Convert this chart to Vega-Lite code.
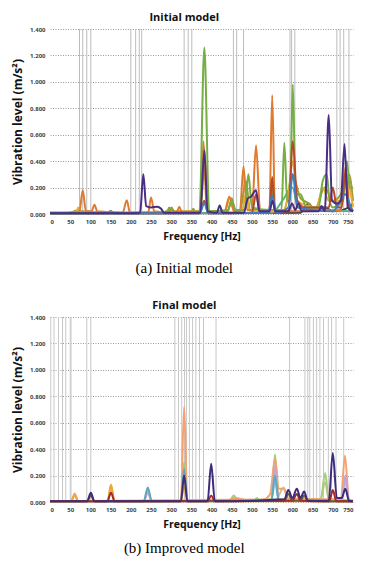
{
  "$schema": "https://vega.github.io/schema/vega-lite/v6.json",
  "padding": {"left": 11, "top": 12, "right": 12, "bottom": 4},
  "background": "white",
  "config": {
    "view": {"stroke": null},
    "font": "Open Sans",
    "concat": {"spacing": 24},
    "legend": {"disable": true}
  },
  "datasets": {
    "vi": [{"f":73},{"f":81},{"f":91},{"f":101},{"f":200},{"f":212},{"f":221},{"f":227},{"f":332},{"f":342},{"f":351},{"f":454},{"f":462},{"f":479},{"f":594},{"f":598},{"f":606},{"f":710},{"f":718},{"f":727},{"f":740}],
    "vf": [{"f":2},{"f":10},{"f":21},{"f":31},{"f":39},{"f":50},{"f":52},{"f":91},{"f":101},{"f":309},{"f":318},{"f":326},{"f":333},{"f":338},{"f":345},{"f":353},{"f":361},{"f":370},{"f":380},{"f":411},{"f":593},{"f":631},{"f":638},{"f":643},{"f":652},{"f":660},{"f":668},{"f":677},{"f":689},{"f":697},{"f":708},{"f":727}],
    "initial": [
      {"s":"i8","f":0,"v":0.005},{"s":"i8","f":140,"v":0.005},{"s":"i8","f":150,"v":0.02},{"s":"i8","f":160,"v":0.005},{"s":"i8","f":620,"v":0.01},{"s":"i8","f":640,"v":0.08},{"s":"i8","f":655,"v":0.03},{"s":"i8","f":680,"v":0.05},{"s":"i8","f":700,"v":0.02},{"s":"i8","f":740,"v":0.05},{"s":"i8","f":750,"v":0.08},
      {"s":"i9","f":0,"v":0.005},{"s":"i9","f":550,"v":0.01},{"s":"i9","f":575,"v":0.1},{"s":"i9","f":600,"v":0.2},{"s":"i9","f":615,"v":0.05},{"s":"i9","f":750,"v":0.02},
      {"s":"i4","f":0,"v":0.01},{"s":"i4","f":40,"v":0.01},{"s":"i4","f":60,"v":0.02},{"s":"i4","f":70,"v":0.03},{"s":"i4","f":80,"v":0.02},{"s":"i4","f":150,"v":0.01},{"s":"i4","f":290,"v":0.01},{"s":"i4","f":295,"v":0.05},{"s":"i4","f":302,"v":0.02},{"s":"i4","f":350,"v":0.02},{"s":"i4","f":355,"v":0.04},{"s":"i4","f":360,"v":0.01},{"s":"i4","f":372,"v":0.02},{"s":"i4","f":382,"v":0.35},{"s":"i4","f":392,"v":0.02},{"s":"i4","f":440,"v":0.02},{"s":"i4","f":450,"v":0.12},{"s":"i4","f":458,"v":0.02},{"s":"i4","f":470,"v":0.02},{"s":"i4","f":485,"v":0.25},{"s":"i4","f":495,"v":0.03},{"s":"i4","f":580,"v":0.03},{"s":"i4","f":600,"v":0.3},{"s":"i4","f":620,"v":0.12},{"s":"i4","f":640,"v":0.08},{"s":"i4","f":655,"v":0.03},{"s":"i4","f":680,"v":0.2},{"s":"i4","f":700,"v":0.1},{"s":"i4","f":720,"v":0.15},{"s":"i4","f":740,"v":0.3},{"s":"i4","f":750,"v":0.1},
      {"s":"i6","f":0,"v":0.01},{"s":"i6","f":65,"v":0.01},{"s":"i6","f":70,"v":0.05},{"s":"i6","f":76,"v":0.01},{"s":"i6","f":370,"v":0.02},{"s":"i6","f":382,"v":0.5},{"s":"i6","f":392,"v":0.02},{"s":"i6","f":432,"v":0.01},{"s":"i6","f":445,"v":0.12},{"s":"i6","f":457,"v":0.01},{"s":"i6","f":475,"v":0.02},{"s":"i6","f":485,"v":0.15},{"s":"i6","f":495,"v":0.02},{"s":"i6","f":575,"v":0.02},{"s":"i6","f":590,"v":0.15},{"s":"i6","f":601,"v":0.4},{"s":"i6","f":612,"v":0.1},{"s":"i6","f":640,"v":0.06},{"s":"i6","f":660,"v":0.05},{"s":"i6","f":675,"v":0.2},{"s":"i6","f":690,"v":0.1},{"s":"i6","f":720,"v":0.1},{"s":"i6","f":735,"v":0.25},{"s":"i6","f":750,"v":0.05},
      {"s":"i1","f":0,"v":0.01},{"s":"i1","f":60,"v":0.01},{"s":"i1","f":73,"v":0.02},{"s":"i1","f":81,"v":0.18},{"s":"i1","f":89,"v":0.02},{"s":"i1","f":103,"v":0.02},{"s":"i1","f":110,"v":0.07},{"s":"i1","f":117,"v":0.02},{"s":"i1","f":180,"v":0.01},{"s":"i1","f":190,"v":0.105},{"s":"i1","f":198,"v":0.01},{"s":"i1","f":243,"v":0.01},{"s":"i1","f":250,"v":0.125},{"s":"i1","f":258,"v":0.02},{"s":"i1","f":294,"v":0.01},{"s":"i1","f":301,"v":0.05},{"s":"i1","f":308,"v":0.01},{"s":"i1","f":313,"v":0.01},{"s":"i1","f":320,"v":0.055},{"s":"i1","f":327,"v":0.01},{"s":"i1","f":372,"v":0.02},{"s":"i1","f":380,"v":0.55},{"s":"i1","f":388,"v":0.02},{"s":"i1","f":432,"v":0.02},{"s":"i1","f":444,"v":0.13},{"s":"i1","f":456,"v":0.02},{"s":"i1","f":470,"v":0.02},{"s":"i1","f":479,"v":0.36},{"s":"i1","f":488,"v":0.03},{"s":"i1","f":500,"v":0.03},{"s":"i1","f":510,"v":0.52},{"s":"i1","f":520,"v":0.03},{"s":"i1","f":543,"v":0.02},{"s":"i1","f":550,"v":0.9},{"s":"i1","f":557,"v":0.02},{"s":"i1","f":600,"v":0.02},{"s":"i1","f":720,"v":0.03},{"s":"i1","f":731,"v":0.35},{"s":"i1","f":742,"v":0.03},{"s":"i1","f":750,"v":0.02},
      {"s":"i2","f":0,"v":0.005},{"s":"i2","f":280,"v":0.01},{"s":"i2","f":300,"v":0.04},{"s":"i2","f":310,"v":0.01},{"s":"i2","f":370,"v":0.02},{"s":"i2","f":382,"v":1.26},{"s":"i2","f":394,"v":0.02},{"s":"i2","f":440,"v":0.03},{"s":"i2","f":450,"v":0.1},{"s":"i2","f":460,"v":0.03},{"s":"i2","f":482,"v":0.03},{"s":"i2","f":491,"v":0.3},{"s":"i2","f":500,"v":0.05},{"s":"i2","f":545,"v":0.03},{"s":"i2","f":550,"v":0.2},{"s":"i2","f":556,"v":0.03},{"s":"i2","f":573,"v":0.03},{"s":"i2","f":580,"v":0.54},{"s":"i2","f":587,"v":0.1},{"s":"i2","f":594,"v":0.1},{"s":"i2","f":601,"v":0.98},{"s":"i2","f":608,"v":0.15},{"s":"i2","f":620,"v":0.15},{"s":"i2","f":635,"v":0.05},{"s":"i2","f":665,"v":0.05},{"s":"i2","f":675,"v":0.25},{"s":"i2","f":685,"v":0.3},{"s":"i2","f":692,"v":0.1},{"s":"i2","f":700,"v":0.05},{"s":"i2","f":725,"v":0.1},{"s":"i2","f":735,"v":0.4},{"s":"i2","f":742,"v":0.2},{"s":"i2","f":750,"v":0.2},
      {"s":"i5","f":0,"v":0.005},{"s":"i5","f":370,"v":0.005},{"s":"i5","f":382,"v":0.1},{"s":"i5","f":392,"v":0.005},{"s":"i5","f":500,"v":0.01},{"s":"i5","f":510,"v":0.15},{"s":"i5","f":520,"v":0.01},{"s":"i5","f":543,"v":0.01},{"s":"i5","f":550,"v":0.28},{"s":"i5","f":557,"v":0.01},{"s":"i5","f":590,"v":0.02},{"s":"i5","f":601,"v":0.55},{"s":"i5","f":612,"v":0.1},{"s":"i5","f":630,"v":0.05},{"s":"i5","f":690,"v":0.05},{"s":"i5","f":700,"v":0.2},{"s":"i5","f":710,"v":0.05},{"s":"i5","f":722,"v":0.05},{"s":"i5","f":731,"v":0.32},{"s":"i5","f":740,"v":0.05},{"s":"i5","f":750,"v":0.03},
      {"s":"i7","f":0,"v":0.005},{"s":"i7","f":370,"v":0.005},{"s":"i7","f":382,"v":0.08},{"s":"i7","f":392,"v":0.005},{"s":"i7","f":540,"v":0.01},{"s":"i7","f":550,"v":0.14},{"s":"i7","f":560,"v":0.01},{"s":"i7","f":590,"v":0.05},{"s":"i7","f":601,"v":0.3},{"s":"i7","f":612,"v":0.05},{"s":"i7","f":700,"v":0.02},{"s":"i7","f":731,"v":0.15},{"s":"i7","f":745,"v":0.05},{"s":"i7","f":750,"v":0.02},
      {"s":"i3","f":0,"v":0.005},{"s":"i3","f":215,"v":0.005},{"s":"i3","f":223,"v":0.01},{"s":"i3","f":231,"v":0.3},{"s":"i3","f":238,"v":0.06},{"s":"i3","f":250,"v":0.05},{"s":"i3","f":265,"v":0.055},{"s":"i3","f":275,"v":0.04},{"s":"i3","f":282,"v":0.01},{"s":"i3","f":372,"v":0.01},{"s":"i3","f":382,"v":0.48},{"s":"i3","f":390,"v":0.02},{"s":"i3","f":413,"v":0.01},{"s":"i3","f":420,"v":0.065},{"s":"i3","f":427,"v":0.01},{"s":"i3","f":480,"v":0.01},{"s":"i3","f":490,"v":0.12},{"s":"i3","f":497,"v":0.13},{"s":"i3","f":510,"v":0.18},{"s":"i3","f":518,"v":0.02},{"s":"i3","f":543,"v":0.02},{"s":"i3","f":551,"v":0.1},{"s":"i3","f":558,"v":0.02},{"s":"i3","f":590,"v":0.02},{"s":"i3","f":599,"v":0.08},{"s":"i3","f":607,"v":0.03},{"s":"i3","f":615,"v":0.08},{"s":"i3","f":623,"v":0.02},{"s":"i3","f":665,"v":0.02},{"s":"i3","f":672,"v":0.06},{"s":"i3","f":680,"v":0.02},{"s":"i3","f":690,"v":0.75},{"s":"i3","f":698,"v":0.1},{"s":"i3","f":710,"v":0.08},{"s":"i3","f":720,"v":0.1},{"s":"i3","f":729,"v":0.53},{"s":"i3","f":737,"v":0.05},{"s":"i3","f":750,"v":0.02}
    ],
    "final": [
      {"s":"f8","f":0,"v":0.005},{"s":"f8","f":560,"v":0.02},{"s":"f8","f":578,"v":0.11},{"s":"f8","f":592,"v":0.02},{"s":"f8","f":670,"v":0.02},{"s":"f8","f":681,"v":0.15},{"s":"f8","f":690,"v":0.02},{"s":"f8","f":750,"v":0.005},
      {"s":"f2","f":0,"v":0.005},{"s":"f2","f":324,"v":0.01},{"s":"f2","f":332,"v":0.3},{"s":"f2","f":340,"v":0.01},{"s":"f2","f":445,"v":0.01},{"s":"f2","f":455,"v":0.05},{"s":"f2","f":465,"v":0.01},{"s":"f2","f":505,"v":0.01},{"s":"f2","f":512,"v":0.03},{"s":"f2","f":519,"v":0.01},{"s":"f2","f":548,"v":0.02},{"s":"f2","f":557,"v":0.36},{"s":"f2","f":566,"v":0.02},{"s":"f2","f":670,"v":0.02},{"s":"f2","f":681,"v":0.22},{"s":"f2","f":690,"v":0.02},{"s":"f2","f":750,"v":0.01},
      {"s":"f1","f":0,"v":0.005},{"s":"f1","f":52,"v":0.005},{"s":"f1","f":61,"v":0.065},{"s":"f1","f":70,"v":0.005},{"s":"f1","f":143,"v":0.005},{"s":"f1","f":151,"v":0.12},{"s":"f1","f":159,"v":0.005},{"s":"f1","f":324,"v":0.01},{"s":"f1","f":332,"v":0.72},{"s":"f1","f":340,"v":0.01},{"s":"f1","f":440,"v":0.01},{"s":"f1","f":455,"v":0.03},{"s":"f1","f":500,"v":0.01},{"s":"f1","f":530,"v":0.02},{"s":"f1","f":545,"v":0.06},{"s":"f1","f":557,"v":0.33},{"s":"f1","f":566,"v":0.1},{"s":"f1","f":578,"v":0.1},{"s":"f1","f":590,"v":0.02},{"s":"f1","f":720,"v":0.02},{"s":"f1","f":730,"v":0.35},{"s":"f1","f":740,"v":0.02},{"s":"f1","f":750,"v":0.01},
      {"s":"f10","f":0,"v":0.005},{"s":"f10","f":232,"v":0.005},{"s":"f10","f":242,"v":0.09},{"s":"f10","f":252,"v":0.005},{"s":"f10","f":548,"v":0.01},{"s":"f10","f":557,"v":0.15},{"s":"f10","f":566,"v":0.01},{"s":"f10","f":720,"v":0.01},{"s":"f10","f":731,"v":0.15},{"s":"f10","f":740,"v":0.01},{"s":"f10","f":750,"v":0.005},
      {"s":"f7","f":0,"v":0.005},{"s":"f7","f":232,"v":0.005},{"s":"f7","f":242,"v":0.07},{"s":"f7","f":252,"v":0.005},{"s":"f7","f":548,"v":0.01},{"s":"f7","f":557,"v":0.27},{"s":"f7","f":566,"v":0.01},{"s":"f7","f":722,"v":0.01},{"s":"f7","f":731,"v":0.2},{"s":"f7","f":740,"v":0.01},{"s":"f7","f":750,"v":0.005},
      {"s":"f6","f":0,"v":0.005},{"s":"f6","f":232,"v":0.005},{"s":"f6","f":242,"v":0.11},{"s":"f6","f":252,"v":0.005},{"s":"f6","f":324,"v":0.005},{"s":"f6","f":332,"v":0.25},{"s":"f6","f":340,"v":0.005},{"s":"f6","f":548,"v":0.01},{"s":"f6","f":557,"v":0.2},{"s":"f6","f":566,"v":0.01},{"s":"f6","f":750,"v":0.005},
      {"s":"f5","f":0,"v":0.005},{"s":"f5","f":52,"v":0.005},{"s":"f5","f":61,"v":0.05},{"s":"f5","f":70,"v":0.005},{"s":"f5","f":142,"v":0.005},{"s":"f5","f":151,"v":0.13},{"s":"f5","f":160,"v":0.005},{"s":"f5","f":324,"v":0.005},{"s":"f5","f":332,"v":0.12},{"s":"f5","f":340,"v":0.005},{"s":"f5","f":750,"v":0.005},
      {"s":"f9","f":0,"v":0.005},{"s":"f9","f":92,"v":0.005},{"s":"f9","f":101,"v":0.05},{"s":"f9","f":110,"v":0.005},{"s":"f9","f":580,"v":0.01},{"s":"f9","f":590,"v":0.06},{"s":"f9","f":600,"v":0.01},{"s":"f9","f":620,"v":0.01},{"s":"f9","f":629,"v":0.05},{"s":"f9","f":638,"v":0.01},{"s":"f9","f":750,"v":0.005},
      {"s":"f4","f":0,"v":0.005},{"s":"f4","f":142,"v":0.005},{"s":"f4","f":151,"v":0.07},{"s":"f4","f":160,"v":0.005},{"s":"f4","f":390,"v":0.005},{"s":"f4","f":399,"v":0.05},{"s":"f4","f":408,"v":0.005},{"s":"f4","f":600,"v":0.01},{"s":"f4","f":611,"v":0.06},{"s":"f4","f":620,"v":0.01},{"s":"f4","f":691,"v":0.005},{"s":"f4","f":700,"v":0.09},{"s":"f4","f":709,"v":0.005},{"s":"f4","f":750,"v":0.005},
      {"s":"f3","f":0,"v":0.005},{"s":"f3","f":92,"v":0.005},{"s":"f3","f":101,"v":0.07},{"s":"f3","f":110,"v":0.005},{"s":"f3","f":324,"v":0.005},{"s":"f3","f":332,"v":0.2},{"s":"f3","f":340,"v":0.005},{"s":"f3","f":390,"v":0.005},{"s":"f3","f":399,"v":0.29},{"s":"f3","f":408,"v":0.005},{"s":"f3","f":580,"v":0.02},{"s":"f3","f":590,"v":0.09},{"s":"f3","f":600,"v":0.03},{"s":"f3","f":611,"v":0.1},{"s":"f3","f":620,"v":0.03},{"s":"f3","f":629,"v":0.08},{"s":"f3","f":638,"v":0.01},{"s":"f3","f":690,"v":0.01},{"s":"f3","f":700,"v":0.37},{"s":"f3","f":710,"v":0.03},{"s":"f3","f":722,"v":0.03},{"s":"f3","f":731,"v":0.1},{"s":"f3","f":740,"v":0.01},{"s":"f3","f":750,"v":0.005}
    ]
  },
  "vconcat": [
    {
      "title": {"text": "(a) Initial model", "orient": "bottom", "font": "Liberation Serif", "fontSize": 15, "fontWeight": "normal", "anchor": "middle", "offset": 19, "color": "#000"},
      "vconcat": [
        {
          "width": 303, "height": 185,
          "title": {"text": "Initial model", "fontSize": 11, "fontWeight": "bold", "anchor": "middle", "frame": "bounds", "offset": 3, "color": "#111"},
          "layer": [
            {
              "data": {"name": "vi"},
              "mark": {"type": "rule", "color": "#BDBDBD", "strokeWidth": 1},
              "encoding": {
                "x": {"field": "f", "type": "quantitative", "scale": {"domain": [0, 750], "nice": false},
                  "axis": {"title": "Frequency [Hz]", "values": [0,50,100,150,200,250,300,350,400,450,500,550,600,650,700,750], "labelFontSize": 6, "labelFontWeight": "bold", "labelColor": "#444", "titleFontSize": 10.5, "titleFontWeight": "bold", "titleColor": "#111", "domain": false, "ticks": false, "grid": false, "labelPadding": 4, "titlePadding": 7}}
              }
            },
            {
              "data": {"name": "initial"},
              "mark": {"type": "line", "interpolate": "monotone", "strokeWidth": 2},
              "encoding": {
                "x": {"field": "f", "type": "quantitative", "scale": {"domain": [0, 750], "nice": false},
                  "axis": {"title": "Frequency [Hz]", "values": [0,50,100,150,200,250,300,350,400,450,500,550,600,650,700,750], "labelFontSize": 6, "labelFontWeight": "bold", "labelColor": "#444", "titleFontSize": 10.5, "titleFontWeight": "bold", "titleColor": "#111", "domain": false, "ticks": false, "grid": false, "labelPadding": 4, "titlePadding": 7}},
                "y": {"field": "v", "type": "quantitative", "scale": {"domain": [0, 1.4], "nice": false},
                  "axis": {"title": "Vibration level  (m/s²)", "values": [0,0.2,0.4,0.6,0.8,1.0,1.2,1.4], "format": ".3f", "labelFontSize": 6, "labelFontWeight": "bold", "labelColor": "#444", "titleFontSize": 12, "titleFontWeight": "bold", "titleColor": "#111", "domain": false, "ticks": false, "grid": true, "gridDash": [1, 1.5], "gridColor": "#999999", "labelPadding": 5, "titlePadding": 5}},
                "color": {"field": "s", "type": "nominal",
                  "scale": {"domain": ["i1","i2","i3","i4","i5","i6","i7","i8","i9","f1","f2","f3","f4","f5","f6","f7","f8","f9","f10"],
                            "range": ["#E07A2E","#74AE45","#4A2D84","#A09A35","#B5492B","#E4AE35","#3E7DC2","#3F3F3F","#5BAE8C","#F4A272","#A2CE7E","#3D2C7A","#A52A2A","#E8A83A","#5AAAB8","#C9A3CC","#D9BC8C","#6E5B3A","#9EC5E8"]},
                  "legend": null}
              }
            }
          ]
        }
      ]
    },
    {
      "title": {"text": "(b) Improved model", "orient": "bottom", "font": "Liberation Serif", "fontSize": 15, "fontWeight": "normal", "anchor": "middle", "offset": 11, "color": "#000"},
      "vconcat": [
        {
          "width": 303, "height": 185,
          "title": {"text": "Final model", "fontSize": 11, "fontWeight": "bold", "anchor": "middle", "frame": "bounds", "offset": 3, "color": "#111"},
          "layer": [
            {
              "data": {"name": "vf"},
              "mark": {"type": "rule", "color": "#C8C8C8", "strokeWidth": 1},
              "encoding": {
                "x": {"field": "f", "type": "quantitative", "scale": {"domain": [0, 750], "nice": false},
                  "axis": {"title": "Frequency [Hz]", "values": [0,50,100,150,200,250,300,350,400,450,500,550,600,650,700,750], "labelFontSize": 6, "labelFontWeight": "bold", "labelColor": "#444", "titleFontSize": 10.5, "titleFontWeight": "bold", "titleColor": "#111", "domain": false, "ticks": false, "grid": false, "labelPadding": 4, "titlePadding": 7}}
              }
            },
            {
              "data": {"name": "final"},
              "mark": {"type": "line", "interpolate": "monotone", "strokeWidth": 2},
              "encoding": {
                "x": {"field": "f", "type": "quantitative", "scale": {"domain": [0, 750], "nice": false},
                  "axis": {"title": "Frequency [Hz]", "values": [0,50,100,150,200,250,300,350,400,450,500,550,600,650,700,750], "labelFontSize": 6, "labelFontWeight": "bold", "labelColor": "#444", "titleFontSize": 10.5, "titleFontWeight": "bold", "titleColor": "#111", "domain": false, "ticks": false, "grid": false, "labelPadding": 4, "titlePadding": 7}},
                "y": {"field": "v", "type": "quantitative", "scale": {"domain": [0, 1.4], "nice": false},
                  "axis": {"title": "Vibration level  (m/s²)", "values": [0,0.2,0.4,0.6,0.8,1.0,1.2,1.4], "format": ".3f", "labelFontSize": 6, "labelFontWeight": "bold", "labelColor": "#444", "titleFontSize": 12, "titleFontWeight": "bold", "titleColor": "#111", "domain": false, "ticks": false, "grid": true, "gridDash": [1, 1.5], "gridColor": "#999999", "labelPadding": 5, "titlePadding": 5}},
                "color": {"field": "s", "type": "nominal",
                  "scale": {"domain": ["i1","i2","i3","i4","i5","i6","i7","i8","i9","f1","f2","f3","f4","f5","f6","f7","f8","f9","f10"],
                            "range": ["#E07A2E","#74AE45","#4A2D84","#A09A35","#B5492B","#E4AE35","#3E7DC2","#3F3F3F","#5BAE8C","#F4A272","#A2CE7E","#3D2C7A","#A52A2A","#E8A83A","#5AAAB8","#C9A3CC","#D9BC8C","#6E5B3A","#9EC5E8"]},
                  "legend": null}
              }
            }
          ]
        }
      ]
    }
  ]
}
